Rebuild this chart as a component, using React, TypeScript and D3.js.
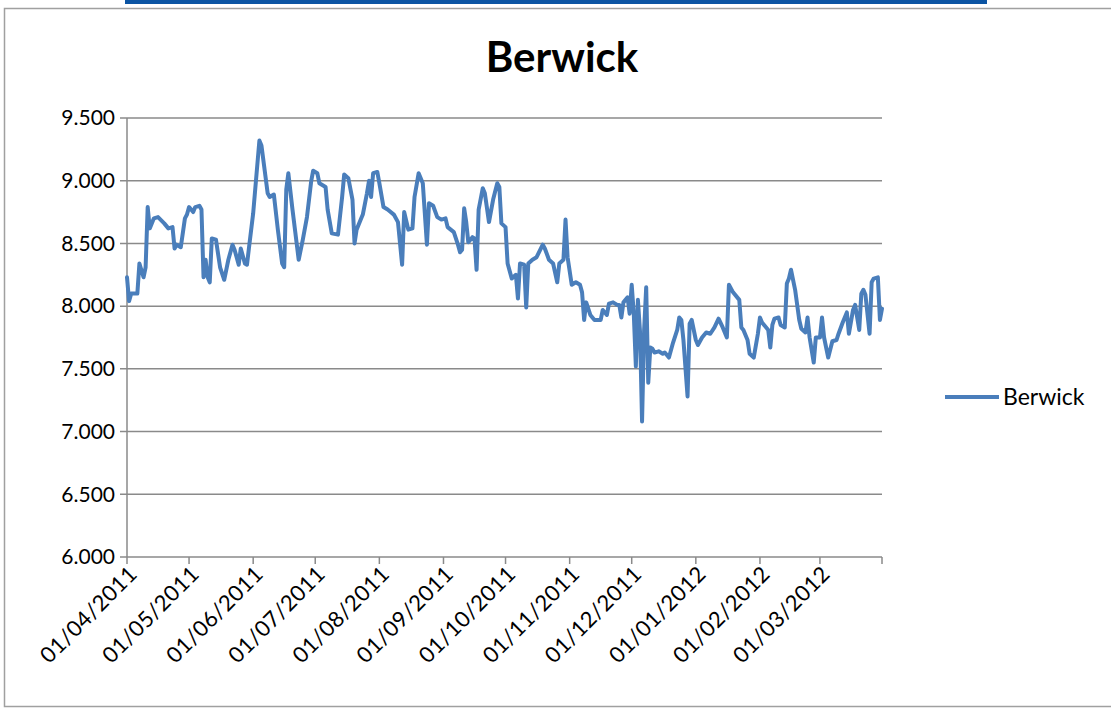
import React, { useEffect, useRef } from "react";
import * as d3 from "d3";

// Berwick daily readings, April 2011 – March 2012
const dates: string[] = [
  "2011-04-01","2011-04-02","2011-04-03","2011-04-06","2011-04-07","2011-04-09","2011-04-10","2011-04-11","2011-04-12","2011-04-14",
  "2011-04-16","2011-04-19","2011-04-21","2011-04-23","2011-04-24","2011-04-25","2011-04-27","2011-04-29","2011-04-30","2011-05-01",
  "2011-05-03","2011-05-04","2011-05-06","2011-05-07","2011-05-08","2011-05-09","2011-05-10","2011-05-11","2011-05-12","2011-05-14",
  "2011-05-16","2011-05-18","2011-05-20","2011-05-22","2011-05-23","2011-05-25","2011-05-26","2011-05-28","2011-05-29","2011-05-30",
  "2011-06-01","2011-06-04","2011-06-05","2011-06-08","2011-06-09","2011-06-11","2011-06-13","2011-06-15","2011-06-16","2011-06-17",
  "2011-06-18","2011-06-20","2011-06-23","2011-06-25","2011-06-27","2011-06-29","2011-06-30","2011-07-02","2011-07-03","2011-07-06",
  "2011-07-07","2011-07-09","2011-07-12","2011-07-14","2011-07-15","2011-07-17","2011-07-19","2011-07-20","2011-07-21","2011-07-23",
  "2011-07-24","2011-07-26","2011-07-27","2011-07-28","2011-07-29","2011-07-31","2011-08-01","2011-08-03","2011-08-05","2011-08-08",
  "2011-08-10","2011-08-12","2011-08-13","2011-08-15","2011-08-17","2011-08-18","2011-08-20","2011-08-22","2011-08-24","2011-08-25",
  "2011-08-27","2011-08-29","2011-08-31","2011-09-02","2011-09-03","2011-09-06","2011-09-08","2011-09-09","2011-09-10","2011-09-11",
  "2011-09-12","2011-09-13","2011-09-15","2011-09-16","2011-09-17","2011-09-18","2011-09-20","2011-09-21","2011-09-23","2011-09-25",
  "2011-09-27","2011-09-28","2011-09-29","2011-10-01","2011-10-02","2011-10-04","2011-10-06","2011-10-07","2011-10-08","2011-10-10",
  "2011-10-11","2011-10-12","2011-10-14","2011-10-16","2011-10-19","2011-10-20","2011-10-22","2011-10-24","2011-10-26","2011-10-27",
  "2011-10-29","2011-10-30","2011-10-31","2011-11-02","2011-11-04","2011-11-06","2011-11-07","2011-11-08","2011-11-09","2011-11-11",
  "2011-11-13","2011-11-16","2011-11-17","2011-11-19","2011-11-20","2011-11-22","2011-11-24","2011-11-25","2011-11-26","2011-11-27",
  "2011-11-29","2011-11-30","2011-12-01","2011-12-02","2011-12-03","2011-12-04","2011-12-05","2011-12-06","2011-12-07","2011-12-08",
  "2011-12-09","2011-12-10","2011-12-11","2011-12-12","2011-12-14","2011-12-16","2011-12-17","2011-12-19","2011-12-21","2011-12-23",
  "2011-12-24","2011-12-25","2011-12-26","2011-12-28","2011-12-29","2011-12-30","2012-01-01","2012-01-02","2012-01-04","2012-01-06",
  "2012-01-08","2012-01-10","2012-01-12","2012-01-14","2012-01-16","2012-01-17","2012-01-19","2012-01-22","2012-01-23","2012-01-24",
  "2012-01-26","2012-01-27","2012-01-29","2012-01-31","2012-02-01","2012-02-02","2012-02-05","2012-02-06","2012-02-07","2012-02-08",
  "2012-02-10","2012-02-11","2012-02-13","2012-02-14","2012-02-15","2012-02-16","2012-02-18","2012-02-20","2012-02-21","2012-02-23",
  "2012-02-24","2012-02-25","2012-02-27","2012-02-28","2012-03-01","2012-03-02","2012-03-03","2012-03-05","2012-03-07","2012-03-09",
  "2012-03-10","2012-03-12","2012-03-14","2012-03-15","2012-03-17","2012-03-18","2012-03-20","2012-03-21","2012-03-22","2012-03-23",
  "2012-03-25","2012-03-26","2012-03-27","2012-03-29","2012-03-30","2012-03-31",
];

const berwick: number[] = [
  8.23,8.04,8.10,8.10,8.34,8.23,8.31,8.79,8.62,8.70,
  8.71,8.66,8.62,8.63,8.46,8.49,8.47,8.70,8.73,8.79,
  8.75,8.79,8.80,8.77,8.23,8.37,8.23,8.19,8.54,8.53,
  8.31,8.21,8.37,8.49,8.45,8.33,8.46,8.34,8.33,8.47,
  8.74,9.32,9.28,8.90,8.87,8.89,8.60,8.34,8.31,8.93,
  9.06,8.77,8.37,8.53,8.71,8.99,9.08,9.06,8.98,8.95,
  8.77,8.58,8.57,8.87,9.05,9.02,8.85,8.50,8.61,8.69,
  8.73,8.90,9.00,8.87,9.06,9.07,8.98,8.79,8.77,8.73,
  8.67,8.33,8.75,8.61,8.62,8.87,9.06,8.98,8.49,8.82,
  8.80,8.71,8.69,8.70,8.63,8.59,8.49,8.43,8.45,8.78,
  8.67,8.51,8.55,8.54,8.29,8.77,8.94,8.90,8.67,8.85,
  8.98,8.95,8.66,8.63,8.34,8.22,8.25,8.06,8.34,8.33,
  7.99,8.34,8.37,8.39,8.49,8.46,8.37,8.34,8.19,8.34,
  8.37,8.69,8.39,8.17,8.19,8.17,8.11,7.89,8.03,7.93,
  7.89,7.89,7.97,7.93,8.02,8.03,8.01,8.01,7.91,8.03,
  8.07,7.94,8.17,7.94,7.52,8.05,7.80,7.08,7.81,8.15,
  7.39,7.67,7.66,7.63,7.64,7.62,7.63,7.59,7.71,7.81,
  7.91,7.89,7.73,7.28,7.86,7.89,7.73,7.69,7.75,7.79,
  7.78,7.83,7.90,7.83,7.75,8.17,8.11,8.05,7.83,7.81,
  7.73,7.62,7.59,7.78,7.91,7.87,7.81,7.67,7.85,7.90,
  7.91,7.85,7.83,8.18,8.22,8.29,8.13,7.89,7.82,7.79,
  7.91,7.75,7.55,7.75,7.75,7.91,7.75,7.59,7.72,7.73,
  7.78,7.87,7.95,7.78,7.97,8.01,7.81,8.10,8.13,8.09,
  7.78,8.19,8.22,8.23,7.89,7.98,
];

const yTicks: number[] = [6.0, 6.5, 7.0, 7.5, 8.0, 8.5, 9.0, 9.5];
const monthTicks: string[] = [
  "2011-04-01","2011-05-01","2011-06-01","2011-07-01","2011-08-01","2011-09-01",
  "2011-10-01","2011-11-01","2011-12-01","2012-01-01","2012-02-01","2012-03-01",
];
const xDomain: string[] = ["2011-04-01", "2012-03-31"];

const seriesName = "Berwick";
const chartTitle = "Berwick";

const W = 1111;
const H = 711;
const plot = { left: 127, right: 882, top: 118, bottom: 557 };
const lineColor = "#4a7ebb";
const gridColor = "#8a8a8a";
const font = "Lato, 'Open Sans', sans-serif";

export default function App() {
  const ref = useRef<SVGSVGElement>(null);

  useEffect(() => {
    const svg = d3.select(ref.current);
    svg.selectAll("*").remove();

    const parse = d3.utcParse("%Y-%m-%d");
    const fmt = d3.utcFormat("%d/%m/%Y");

    const x = d3
      .scaleUtc()
      .domain(xDomain.map((s) => parse(s) as Date))
      .range([plot.left, plot.right]);
    const y = d3.scaleLinear().domain([6, 9.5]).range([plot.bottom, plot.top]);

    const data = dates.map((d, i) => ({ date: parse(d) as Date, value: berwick[i] }));

    svg.append("rect").attr("x", 0).attr("y", 0).attr("width", W).attr("height", H).attr("fill", "#ffffff");

    // header strip
    svg.append("rect").attr("x", 125).attr("y", 0).attr("width", 862).attr("height", 4).attr("fill", "#0b54a3");

    // chart frame
    svg
      .append("rect")
      .attr("x", 4.5)
      .attr("y", 8.5)
      .attr("width", W + 10)
      .attr("height", 698)
      .attr("fill", "none")
      .attr("stroke", "#a0a0a0")
      .attr("stroke-width", 1.5);

    // title
    svg
      .append("text")
      .attr("x", 562)
      .attr("y", 72)
      .attr("text-anchor", "middle")
      .attr("font-family", font)
      .attr("font-weight", 700)
      .attr("font-size", 42)
      .attr("fill", "#000")
      .text(chartTitle);

    // horizontal gridlines
    const grid = svg.append("g");
    yTicks.forEach((t) => {
      grid
        .append("line")
        .attr("x1", plot.left - 7)
        .attr("x2", plot.right)
        .attr("y1", y(t))
        .attr("y2", y(t))
        .attr("stroke", gridColor)
        .attr("stroke-width", 1.5);
      grid
        .append("text")
        .attr("x", 115)
        .attr("y", y(t))
        .attr("dy", "0.35em")
        .attr("text-anchor", "end")
        .attr("font-family", font)
        .attr("font-size", 21)
        .attr("fill", "#000")
        .text(d3.format(".3f")(t));
    });

    // vertical axis line
    svg
      .append("line")
      .attr("x1", plot.left)
      .attr("x2", plot.left)
      .attr("y1", plot.top)
      .attr("y2", plot.bottom)
      .attr("stroke", gridColor)
      .attr("stroke-width", 1.5);

    // date axis ticks and rotated labels
    const xt = svg.append("g");
    const tickDates = monthTicks.map((s) => parse(s) as Date);
    [...tickDates, parse(xDomain[1]) as Date].forEach((d) => {
      xt.append("line")
        .attr("x1", x(d))
        .attr("x2", x(d))
        .attr("y1", plot.bottom)
        .attr("y2", plot.bottom + 7)
        .attr("stroke", gridColor)
        .attr("stroke-width", 1.5);
    });
    tickDates.forEach((d) => {
      xt.append("text")
        .attr("transform", `translate(${x(d) + 6},${plot.bottom + 13}) rotate(-45)`)
        .attr("text-anchor", "end")
        .attr("dy", "0.35em")
        .attr("font-family", font)
        .attr("font-size", 22)
        .attr("letter-spacing", 0.4)
        .attr("fill", "#000")
        .text(fmt(d));
    });

    // series line
    const line = d3
      .line<{ date: Date; value: number }>()
      .x((d) => x(d.date))
      .y((d) => y(d.value));
    svg
      .append("path")
      .datum(data)
      .attr("d", line)
      .attr("fill", "none")
      .attr("stroke", lineColor)
      .attr("stroke-width", 4)
      .attr("stroke-linejoin", "round")
      .attr("stroke-linecap", "round");

    // legend
    svg
      .append("line")
      .attr("x1", 945)
      .attr("x2", 999)
      .attr("y1", 397)
      .attr("y2", 397)
      .attr("stroke", lineColor)
      .attr("stroke-width", 4);
    svg
      .append("text")
      .attr("x", 1003)
      .attr("y", 397)
      .attr("dy", "0.35em")
      .attr("font-family", font)
      .attr("font-size", 23)
      .attr("fill", "#000")
      .text(seriesName);
  }, []);

  return (
    <svg
      ref={ref}
      width={W}
      height={H}
      style={{ position: "absolute", left: 0, top: 0, display: "block" }}
    />
  );
}
